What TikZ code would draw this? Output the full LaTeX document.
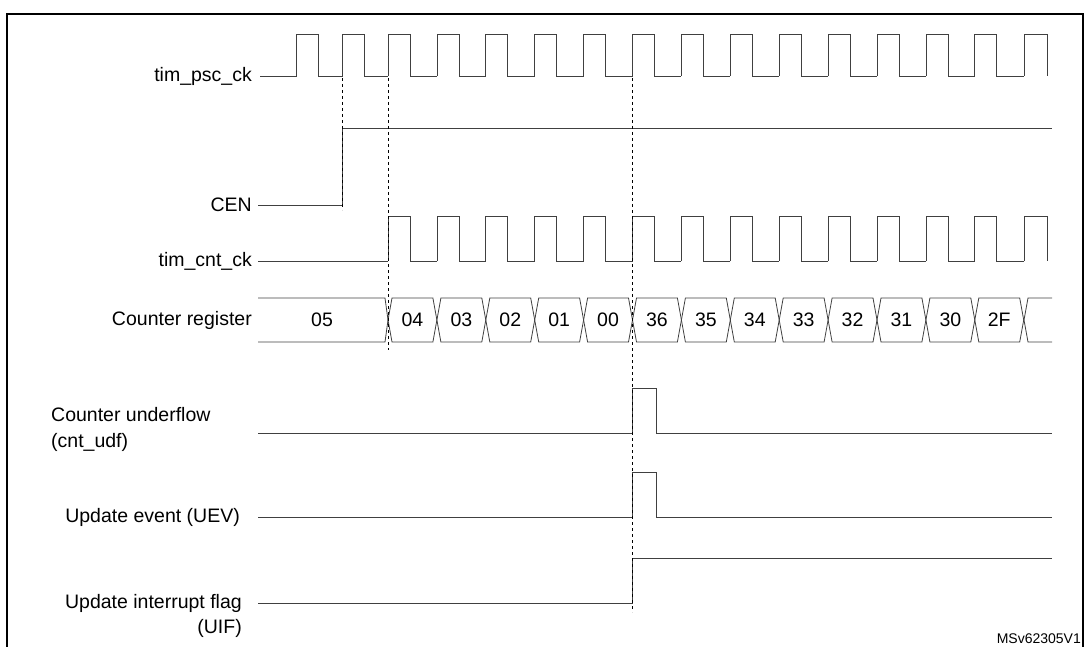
\documentclass[tikz,border=0pt]{standalone}
\usepackage{fontspec}
\setmainfont{Liberation Sans}
\begin{document}
\begin{tikzpicture}[x=1pt,y=-1pt,
  sig/.style={draw, line width=0.8pt, color=black!75},
  lbl/.style={anchor=east, inner sep=0pt, font=\fontsize{19.5}{22}\selectfont},
  cell/.style={inner sep=0pt, font=\fontsize{19.5}{22}\selectfont},
  guide/.style={draw, dashed, line width=0.6pt}]
\useasboundingbox (0,0) rectangle (1089,647);
\draw[line width=1.6pt] (7,14) rectangle (1083,680);

% signal names
\node[lbl] (psc) at (252,76) {tim\_psc\_ck};
\node[lbl] (cen) at (252,205) {CEN};
\node[lbl] (cnt) at (252,261) {tim\_cnt\_ck};
\node[lbl] (reg) at (252,320) {Counter register};
\node[lbl, anchor=west] (udf) at (51,415) {Counter underflow};
\node[lbl, anchor=west] (udf2) at (51,442) {(cnt\_udf)};
\node[lbl] (uev) at (240,517) {Update event (UEV)};
\node[lbl] (uif) at (242,603) {Update interrupt flag};
\node[lbl] (uif2) at (242,628) {(UIF)};
\node[anchor=south east, inner sep=0pt, font=\fontsize{14}{16}\selectfont] (ver) at (1081,644) {MSv62305V1};

% tim_psc_ck
\path[sig] (260,76) -- (296,76) -- (296,34) -- (318,34) -- (318,76) -- (342,76)
  -- (342,34) -- (364,34) -- (364,76) -- (388,76);
\foreach \k in {0,...,12} {
  \pgfmathsetmacro{\r}{388+48.9*\k}
  \path[sig] (\r,76) -- (\r,34) -- (\r+22,34) -- (\r+22,76) -- (\r+48.9,76);
}
\path[sig] (1024,76) -- (1024,34) -- (1047,34) -- (1047,76);
% CEN
\path[sig] (258,205) -- (342,205) -- (342,128) -- (1052,128);
% tim_cnt_ck
\path[sig] (258,261) -- (388,261);
\foreach \k in {0,...,12} {
  \pgfmathsetmacro{\r}{388+48.9*\k}
  \path[sig] (\r,261) -- (\r,216) -- (\r+22,216) -- (\r+22,261) -- (\r+48.9,261);
}
\path[sig] (1024,261) -- (1024,216) -- (1047,216) -- (1047,261);
% counter register
\path[sig] (258,298) -- (385,298) -- (388,320) -- (385,342) -- (258,342);
\node[cell] (v05) at (322,320) {05};
\foreach \v [count=\k from 0] in {04,03,02,01,00,36,35,34,33,32,31,30,2F} {
  \pgfmathsetmacro{\a}{388+48.9*\k}
  \pgfmathsetmacro{\b}{\a+48.9}
  \path[sig] (\a,320) -- (\a+4,298) -- (\b-4,298) -- (\b,320) -- (\b-4,342)
    -- (\a+4,342) -- cycle;
  \node[cell] at ({(\a+\b)/2},320) {\v};
}
\path[sig] (1052,298) -- (1028,298) -- (1024,320) -- (1028,342) -- (1052,342);
% counter underflow
\path[sig] (258,433) -- (632,433) -- (632,388) -- (656,388) -- (656,433) -- (1052,433);
% update event
\path[sig] (258,517) -- (632,517) -- (632,472) -- (656,472) -- (656,517) -- (1052,517);
% update interrupt flag
\path[sig] (258,603) -- (632,603) -- (632,558) -- (1052,558);

% marker lines
\path[guide] (342,78) -- (342,210);
\path[guide] (388,78) -- (388,350);
\path[guide] (632,78) -- (632,612);
\end{tikzpicture}
\end{document}
